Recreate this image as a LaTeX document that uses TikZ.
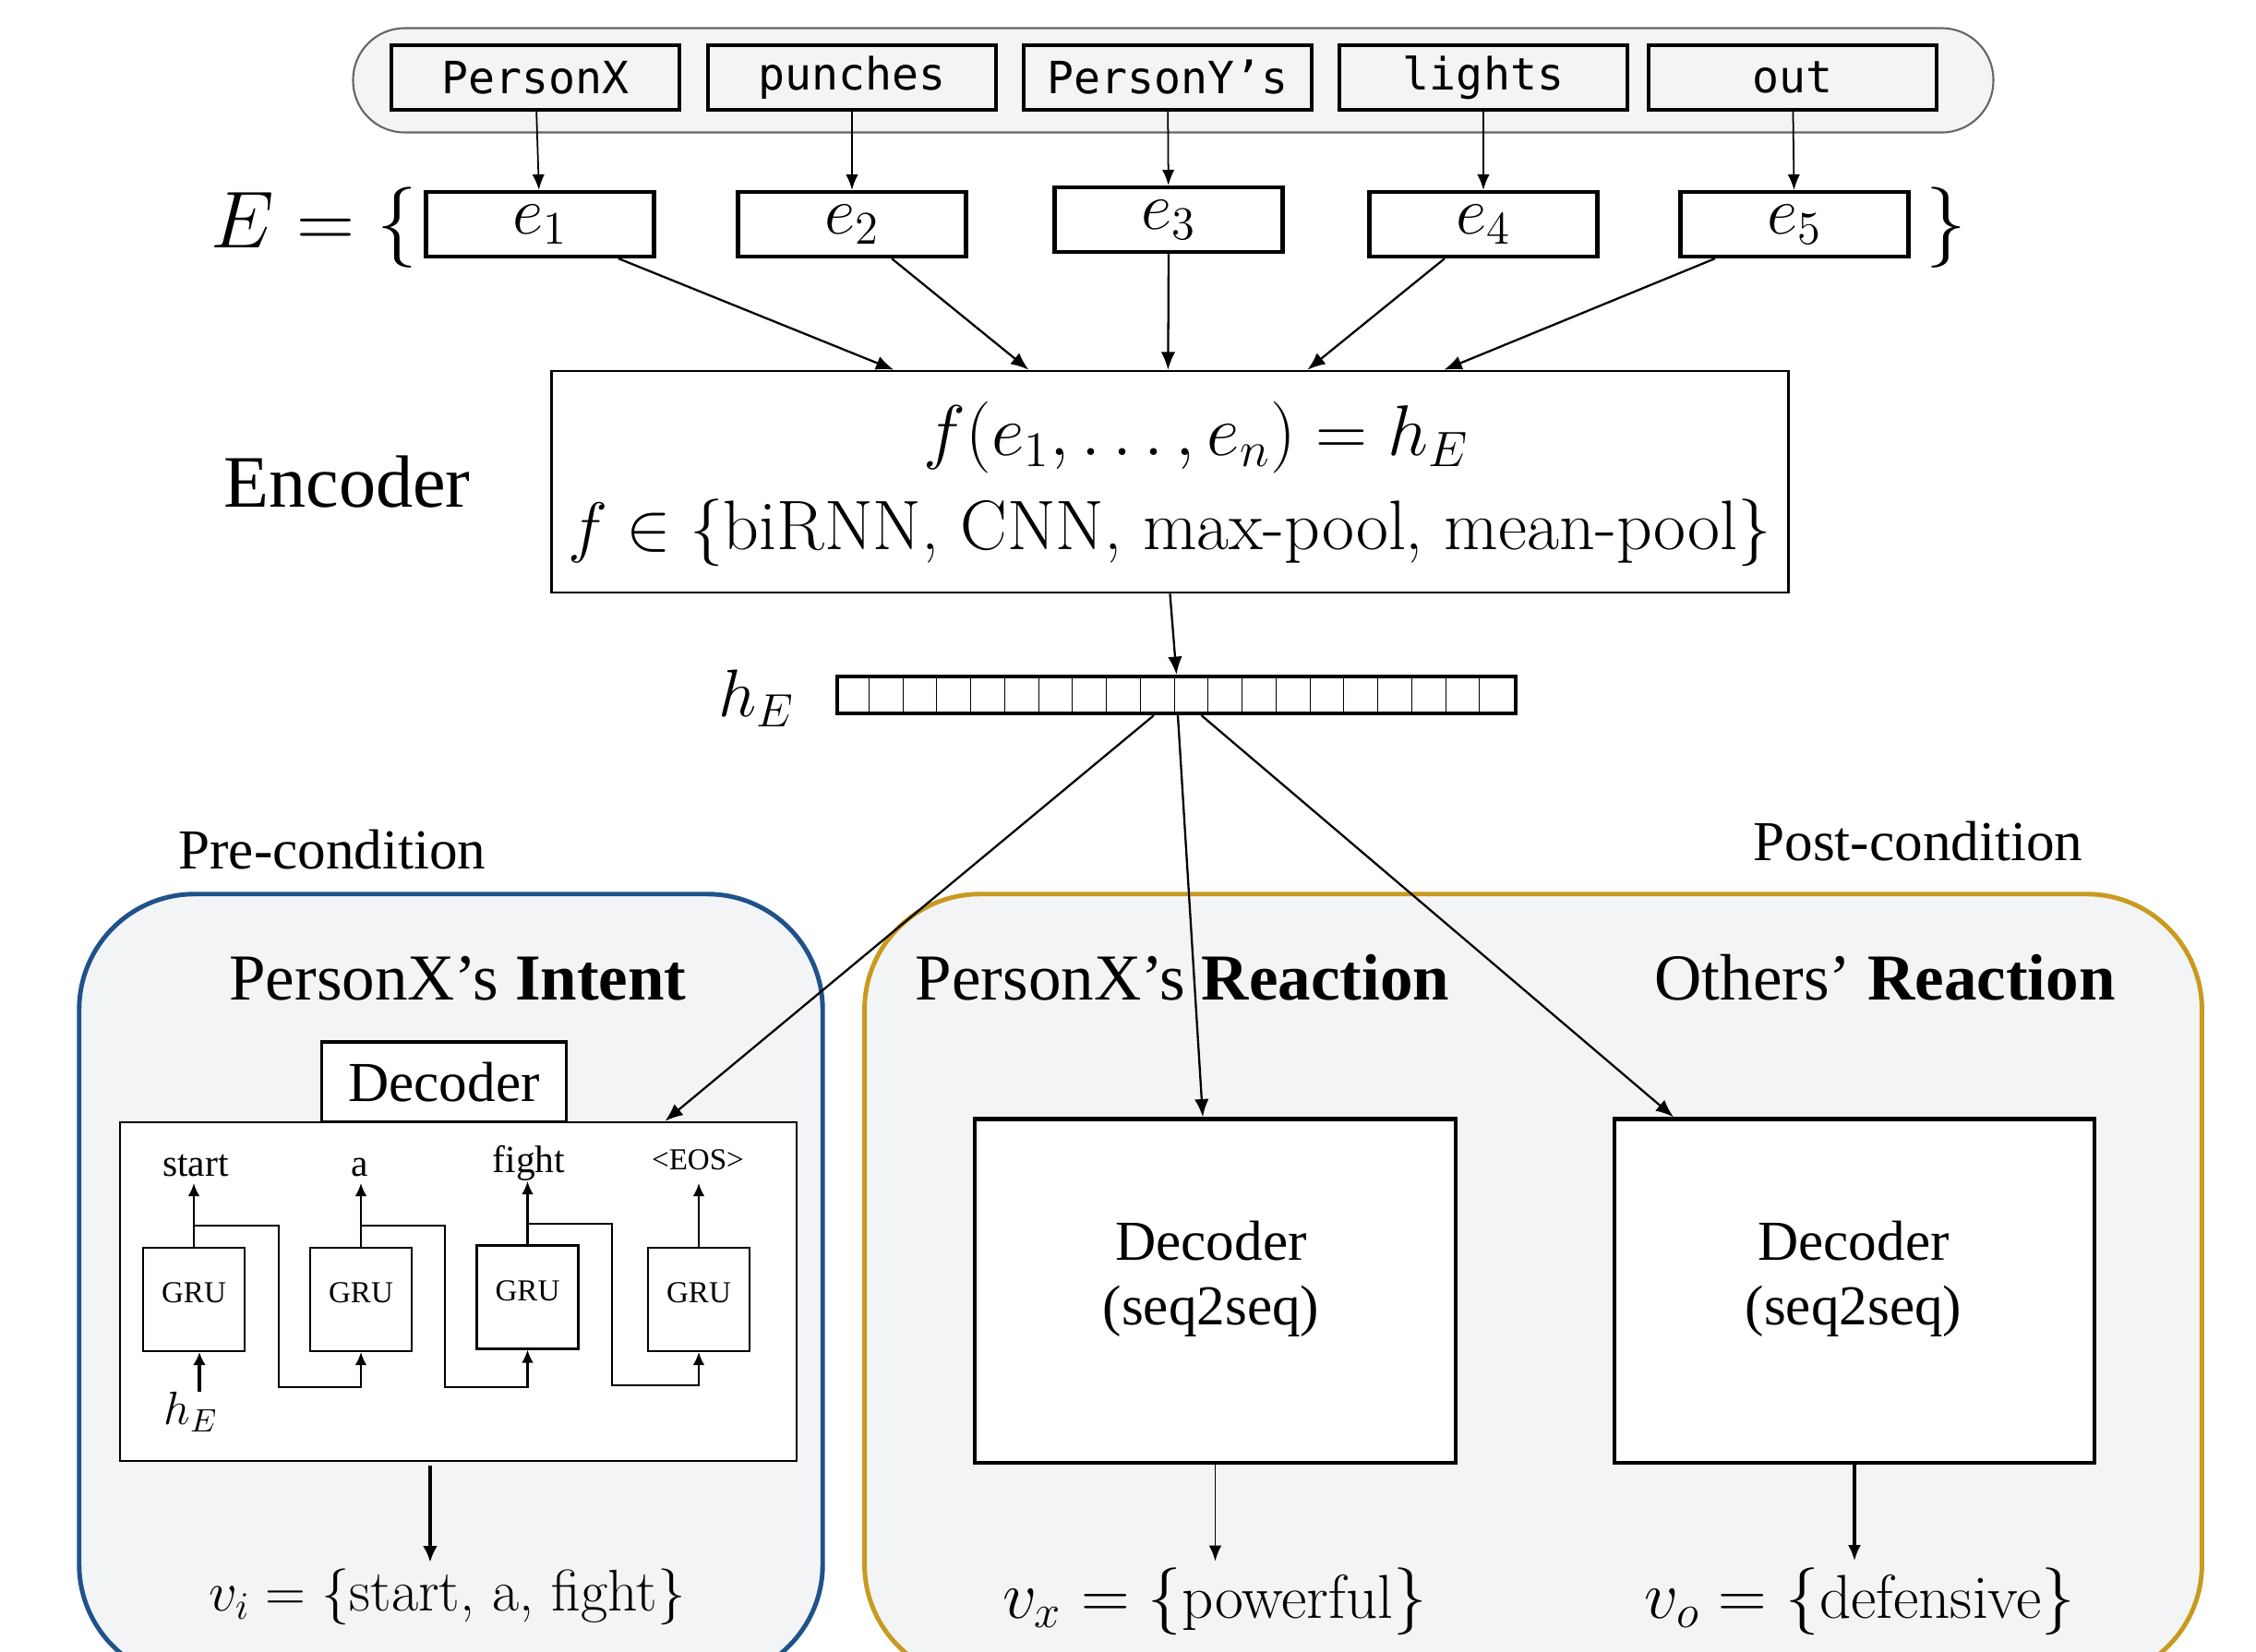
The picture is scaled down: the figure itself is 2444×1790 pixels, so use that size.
\documentclass[tikz,border=0pt]{standalone}
\usepackage{graphicx}
\usepackage[no-math]{fontspec}
\setmainfont{Liberation Serif}
\newfontfamily\wordfont{DejaVu Sans Mono}
\usetikzlibrary{arrows.meta,calc}
\definecolor{panelfill}{HTML}{F3F4F6}
\definecolor{intentblue}{HTML}{1E5289}
\definecolor{reactgold}{HTML}{C99A1E}
\definecolor{capgray}{HTML}{666666}
\newcommand\fs[1]{\fontsize{#1}{#1}\selectfont}
\newcommand\lmtext[1]{\mbox{\fontfamily{lmr}\selectfont #1}}
\begin{document}
\begin{tikzpicture}[x=0.01cm,y=-0.01cm,
  arr/.style={-{Latex[length=5.5pt,width=4.4pt]}, line width=0.65pt},
  thinarr/.style={-{Latex[length=4.8pt,width=3.8pt]}, line width=0.5pt},
  grarr/.style={-{Latex[length=4pt,width=3.6pt]}, line width=0.6pt},
  wordbox/.style={draw, line width=1.2pt, fill=panelfill, minimum width=3.12cm, minimum height=0.70cm, inner sep=0pt, font=\wordfont\fs{13.7}},
  ebox/.style={draw, line width=1.2pt, fill=white, minimum width=2.47cm, minimum height=0.70cm, inner sep=0pt, font=\fs{20.74}},
  panel/.style={line width=1.4pt, fill=panelfill, rounded corners=1.25cm, minimum height=8.51cm, inner sep=0pt},
  title/.style={font=\fs{20.2}, anchor=base, inner sep=0pt},
  grubox/.style={draw, line width=0.6pt, fill=white, minimum width=1.10cm, minimum height=1.12cm, inner sep=0pt, text depth=0.14cm, font=\fs{9.4}},
  declabel/.style={font=\fs{17.4}, anchor=base, inner sep=0pt},
  outlabel/.style={font=\fs{11.8}, anchor=base, inner sep=0pt},
  plain/.style={inner sep=0pt},
]
\useasboundingbox (0,0) rectangle (2444,1790);
\clip (0,0) rectangle (2444,1790);
\fill[white] (0,0) rectangle (2444,1790);

% ---- input words ----
\node[draw=capgray, line width=0.6pt, fill=panelfill, rounded corners=0.56cm, minimum width=17.76cm, minimum height=1.13cm, inner sep=0pt] (cap) at (1271,87) {};
\node[wordbox] (w1) at (580,84) {PersonX};
\node[wordbox] (w2) at (923,84) {punches};
\node[wordbox] (w3) at (1265,84) {PersonY’s};
\node[wordbox] (w4) at (1607,84) {lights};
\node[wordbox] (w5) at (1942,84) {out};

% ---- embeddings ----
\node[plain, anchor=base west, font=\fs{24.88}] (Elab) at (228,268) {$E=\{$};
\node[plain, anchor=base west, font=\fs{24.88}] (rbr) at (2086,268) {$\}$};
\node[ebox] (e1) at (585,243) {$e_1$};
\node[ebox] (e2) at (923,243) {$e_2$};
\node[ebox] (e3) at (1266,238) {$e_3$};
\node[ebox] (e4) at (1607,243) {$e_4$};
\node[ebox] (e5) at (1944,243) {$e_5$};
\foreach \i in {1,...,5} \draw[thinarr] (w\i) -- (e\i);

% ---- encoder ----
\node[draw, line width=0.7pt, fill=white, minimum width=13.39cm, minimum height=2.40cm, inner sep=0pt] (enc) at (1267.5,522) {};
\node[plain, font=\fs{20.74}] (encf1) at (1296,474) {\scalebox{1.065}{$f(e_1,\ldots,e_n)=h_E$}};
\node[plain, font=\fs{21.6}] (encf2) at (1267,577) {$f\in\{\lmtext{biRNN, CNN, max-pool, mean-pool}\}$};
\node[plain, font=\fs{22.8}] (enclab) at (376,522) {Encoder};
\coordinate (t1) at ($(enc.north west)+(372,0)$);
\coordinate (t2) at ($(enc.north west)+(518,0)$);
\coordinate (t3) at ($(enc.north west)+(669,0)$);
\coordinate (t4) at ($(enc.north west)+(820,0)$);
\coordinate (t5) at ($(enc.north west)+(968,0)$);
\draw[arr] ($(e1.south)+(85,0)$) -- (t1);
\draw[arr] ($(e2.south)+(43,0)$) -- (t2);
\draw[arr] (e3.south) -- (t3);
\draw[arr] ($(e4.south)+(-42,0)$) -- (t4);
\draw[arr] ($(e5.south)+(-86,0)$) -- (t5);

% ---- h_E vector ----
\node[draw, line width=1.2pt, fill=white, minimum width=7.35cm, minimum height=0.40cm, inner sep=0pt] (vec) at (1274.5,753) {};
\foreach \i in {1,...,19} \draw[line width=0.3pt] ($(vec.north west)+(\i*36.75,0)$) -- ($(vec.south west)+(\i*36.75,0)$);
\node[plain, font=\fs{20.74}] (hlab) at (820,757) {$h_E$};
\draw[arr] (enc.south) -- (vec.north);

% ---- panels ----
\node[panel, draw=intentblue, minimum width=8.05cm] (pre) at (488.5,1394.5) {};
\node[panel, draw=reactgold, minimum width=14.48cm] (post) at (1661,1394.5) {};
\node[plain, font=\fs{17.4}] (prelab) at (360,921) {Pre-condition};
\node[plain, font=\fs{17.4}] (postlab) at (2078,912) {Post-condition};
\node[title] (tint) at (496,1083) {PersonX’s \textbf{Intent}};
\node[title] (txr) at (1281,1083) {PersonX’s \textbf{Reaction}};
\node[title] (tor) at (2042,1083) {Others’ \textbf{Reaction}};

% ---- intent decoder ----
\node[draw, line width=0.9pt, fill=white, minimum width=2.65cm, minimum height=0.87cm, inner sep=0pt, font=\fs{17.4}] (tab) at (481,1172.5) {Decoder};
\node[draw, line width=0.7pt, fill=white, minimum width=7.33cm, minimum height=3.67cm, inner sep=0pt] (dec) at (496.5,1399.5) {};
\node[grubox] (g1) at (210,1408) {GRU};
\node[grubox] (g2) at (391,1408) {GRU};
\node[grubox] (g3) at (571.5,1405.5) {GRU};
\node[grubox] (g4) at (757,1408) {GRU};
\node[outlabel] (o1) at (212,1274) {start};
\node[outlabel] (o2) at (390,1274) {a};
\node[outlabel] (o3) at (573,1270) {fight};
\node[outlabel, font=\fs{9.4}] (o4) at (756,1267) {<EOS>};
\coordinate (p1) at (210,1282);
\coordinate (p2) at (391,1282);
\coordinate (p3) at (571.5,1280);
\coordinate (p4) at (757,1282);
\foreach \i in {1,...,4} \draw[grarr] (g\i.north) -- (p\i);
\coordinate (b1) at (210,1328);   \coordinate (k1) at (302,1503);
\coordinate (b2) at (391,1328);   \coordinate (k2) at (482,1503);
\coordinate (b3) at (571.5,1326); \coordinate (k3) at (663,1501);
\draw[grarr] (b1) -| (k1) -| (g2.south);
\draw[grarr] (b2) -| (k2) -| (g3.south);
\draw[grarr] (b3) -| (k3) -| (g4.south);
\node[plain, font=\fs{14.4}] (ghe) at (207,1530) {$h_E$};
\draw[-{Latex[length=4pt,width=4pt]}, line width=1.3pt] ($(ghe.north)+(9,0)$) -- ($(g1.south)+(6,0)$);
\node[plain, anchor=base, font=\fs{18.1}] (vi) at (484.5,1745) {$v_i=\{\lmtext{start, a, fight}\}$};
\coordinate (ia) at ($(dec.south)+(-30.5,4)$);
\draw[-{Latex[length=5pt,width=4.5pt]}, line width=1.2pt] (ia) -- ($(ia |- vi.north)+(0,-6)$);

% ---- reaction decoders ----
\node[draw, line width=1.2pt, fill=white, minimum width=5.20cm, minimum height=3.72cm, inner sep=0pt] (dx) at (1316.5,1398.5) {};
\node[draw, line width=1.2pt, fill=white, minimum width=5.20cm, minimum height=3.72cm, inner sep=0pt] (do) at (2009,1398.5) {};
\node[declabel] (dx1) at (1312,1365) {Decoder};
\node[declabel] (dx2) at (1312,1435) {(seq2seq)};
\node[declabel] (do1) at (2008,1365) {Decoder};
\node[declabel] (do2) at (2008,1435) {(seq2seq)};
\node[plain, anchor=base, font=\fs{19.1}] (vx) at (1316,1753) {$v_x=\{\lmtext{powerful}\}$};
\node[plain, anchor=base, font=\fs{19.1}] (vo) at (2015,1753) {$v_o=\{\lmtext{defensive}\}$};
\draw[thinarr] (dx.south) -- ($(dx.south |- vx.north)+(0,-6)$);
\draw[-{Latex[length=5pt,width=4pt]}, line width=1pt] (do.south) -- ($(do.south |- vo.north)+(0,-6)$);

% ---- h_E to decoders ----
\coordinate (s1) at ($(vec.south)+(-24.5,0)$);
\coordinate (s2) at ($(vec.south)+(1.5,0)$);
\coordinate (s3) at ($(vec.south)+(27,0)$);
\draw[arr] (s1) -- ($(dec.north)+(224,0)$);
\draw[arr] (s2) -- ($(dx.north)+(-13.5,0)$);
\draw[arr] (s3) -- ($(do.north)+(-196,0)$);
\end{tikzpicture}
\end{document}
